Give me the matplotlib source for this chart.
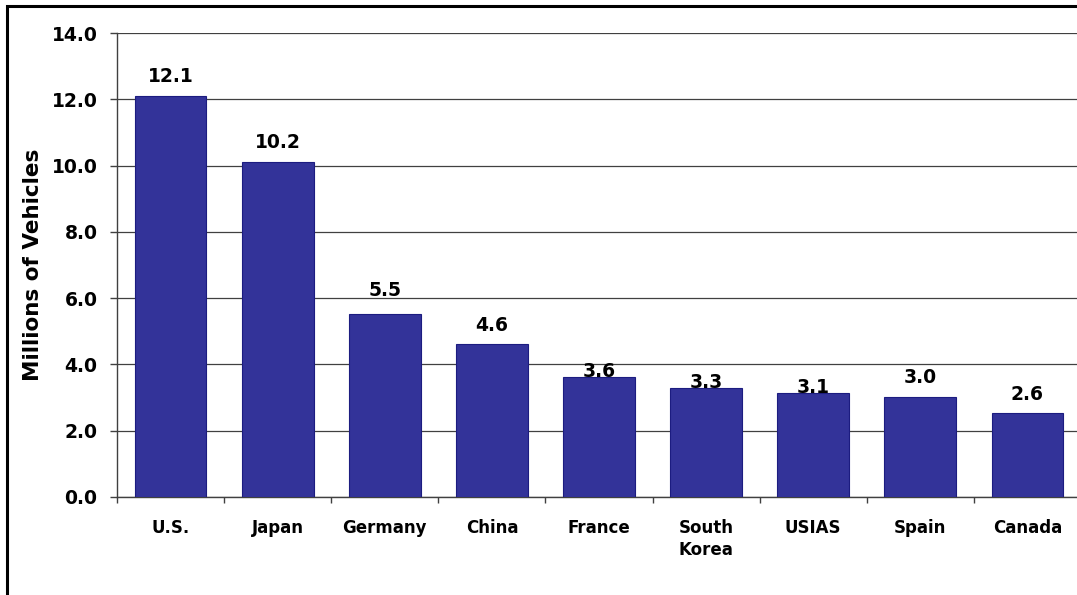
import matplotlib.pyplot as plt
from matplotlib.patches import Rectangle

countries = ["U.S.", "Japan", "Germany", "China", "France", "South\nKorea", "USIAS", "Spain", "Canada"]
vehicles = [12.1, 10.12, 5.51, 4.61, 3.61, 3.28, 3.13, 3.01, 2.53]
value_labels = ["12.1", "10.2", "5.5", "4.6", "3.6", "3.3", "3.1", "3.0", "2.6"]
y_ticks = [0, 2, 4, 6, 8, 10, 12, 14]

# gap between bar top and label baseline, in pixels (Excel squeezed some of them)
label_gap = [14, 13.5, 18, 13.5, 0.5, 0.5, 0.5, 14.5, 13.5]

plt.rcParams["font.family"] = "DejaVu Sans"
plt.rcParams["font.weight"] = "bold"

W, H = 1077, 595
fig = plt.figure(figsize=(W / 100, H / 100), dpi=100)
ax = fig.add_axes([117 / W, 1 - 497 / H, 964 / W, 464 / H])

x = list(range(len(countries)))
bars = ax.bar(x, vehicles, width=0.67, color="#333399", edgecolor="#1c1c80",
              linewidth=0.8, zorder=3)

for xi, v, lab, gap in zip(x, vehicles, value_labels, label_gap):
    ax.annotate(lab, (xi, v), xytext=(0, gap), textcoords="offset pixels",
                ha="center", va="baseline", fontsize=13.5, fontweight="bold", zorder=4)

ax.set_xlim(-0.5, len(countries) - 0.5)
ax.set_ylim(0, 14)
ax.set_yticks(y_ticks)
ax.set_yticklabels([f"{t:.1f}" for t in y_ticks], fontsize=13.5, fontweight="bold")
ax.set_xticks(x)
ax.set_xticklabels(countries, fontsize=12, fontweight="bold", linespacing=1.3)
ax.set_xticks([i + 0.5 for i in range(-1, len(countries))], minor=True)

ax.tick_params(axis="x", which="major", length=0, pad=16)
ax.tick_params(axis="x", which="minor", length=4, width=1, color="#404040", direction="out")
ax.tick_params(axis="y", length=5, width=1, color="#404040", pad=9)

ax.grid(axis="y", color="#404040", linewidth=0.9, zorder=1)
ax.set_axisbelow(True)

for s in ["top", "right"]:
    ax.spines[s].set_visible(False)
ax.spines["left"].set_color("#404040")
ax.spines["bottom"].set_color("#404040")
ax.spines["left"].set_linewidth(1.0)
ax.spines["bottom"].set_linewidth(1.0)

fig.text(33 / W, 1 - 265 / H, "Millions of Vehicles", rotation=90, ha="center",
         va="center", fontsize=15.5, fontweight="bold")

# outer chart border (only the left and top edges are inside the picture)
fig.add_artist(Rectangle((6.5 / W, -0.1), 2, 1 - 6.5 / H + 0.1, transform=fig.transFigure,
                         fill=False, edgecolor="black", linewidth=2.2))

fig.savefig("out.png", dpi=100)
